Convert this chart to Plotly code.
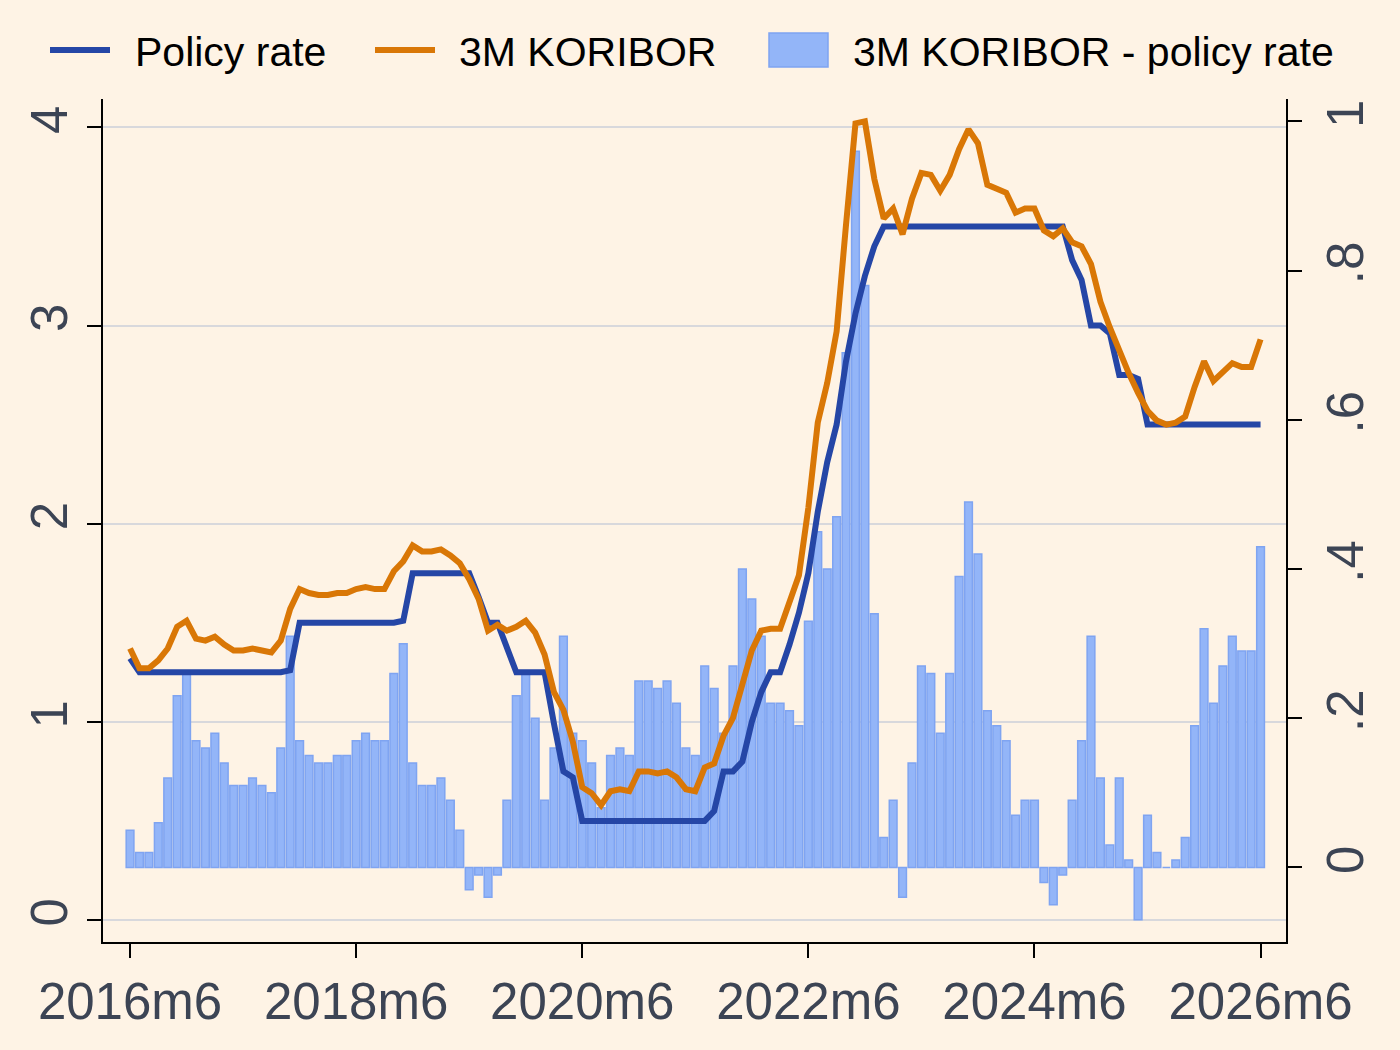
import plotly.graph_objects as go

# Monthly observations, 2016m6 .. 2026m6
months = [f"{2016 + (5 + i) // 12}m{(5 + i) % 12 + 1}" for i in range(121)]

policy_rate = [
    1.32, 1.25, 1.25, 1.25, 1.25, 1.25, 1.25, 1.25, 1.25, 1.25, 1.25, 1.25,
    1.25, 1.25, 1.25, 1.25, 1.25, 1.26, 1.50, 1.50, 1.50, 1.50, 1.50, 1.50,
    1.50, 1.50, 1.50, 1.50, 1.50, 1.51, 1.75, 1.75, 1.75, 1.75, 1.75, 1.75,
    1.75, 1.63, 1.50, 1.50, 1.37, 1.25, 1.25, 1.25, 1.25, 0.99, 0.75, 0.72,
    0.50, 0.50, 0.50, 0.50, 0.50, 0.50, 0.50, 0.50, 0.50, 0.50, 0.50, 0.50,
    0.50, 0.50, 0.55, 0.75, 0.75, 0.80, 1.00, 1.15, 1.25, 1.25, 1.39, 1.55,
    1.75, 2.06, 2.31, 2.50, 2.82, 3.06, 3.25, 3.40, 3.50, 3.50, 3.50, 3.50,
    3.50, 3.50, 3.50, 3.50, 3.50, 3.50, 3.50, 3.50, 3.50, 3.50, 3.50, 3.50,
    3.50, 3.50, 3.50, 3.50, 3.33, 3.23, 3.00, 3.00, 2.96, 2.75, 2.75, 2.73,
    2.50, 2.50, 2.50, 2.50, 2.50, 2.50, 2.50, 2.50, 2.50, 2.50, 2.50, 2.50,
    2.50,
]

koribor_3m = [
    1.37, 1.27, 1.27, 1.31, 1.37, 1.48, 1.51, 1.42, 1.41, 1.43, 1.39, 1.36,
    1.36, 1.37, 1.36, 1.35, 1.41, 1.57, 1.67, 1.65, 1.64, 1.64, 1.65, 1.65,
    1.67, 1.68, 1.67, 1.67, 1.76, 1.81, 1.89, 1.86, 1.86, 1.87, 1.84, 1.80,
    1.72, 1.62, 1.46, 1.49, 1.46, 1.48, 1.51, 1.45, 1.34, 1.15, 1.06, 0.90,
    0.67, 0.64, 0.58, 0.65, 0.66, 0.65, 0.75, 0.75, 0.74, 0.75, 0.72, 0.66,
    0.65, 0.77, 0.79, 0.93, 1.02, 1.20, 1.36, 1.46, 1.47, 1.47, 1.60, 1.74,
    2.08, 2.51, 2.71, 2.97, 3.51, 4.02, 4.03, 3.74, 3.54, 3.59, 3.46, 3.64,
    3.77, 3.76, 3.68, 3.76, 3.89, 3.99, 3.92, 3.71, 3.69, 3.67, 3.57, 3.59,
    3.59, 3.48, 3.45, 3.49, 3.42, 3.40, 3.31, 3.12, 2.99, 2.87, 2.76, 2.66,
    2.57, 2.52, 2.50, 2.51, 2.54, 2.69, 2.82, 2.72, 2.77, 2.81, 2.79, 2.79,
    2.93,
]

spread = [
    0.05, 0.02, 0.02, 0.06, 0.12, 0.23, 0.26, 0.17, 0.16, 0.18, 0.14, 0.11,
    0.11, 0.12, 0.11, 0.10, 0.16, 0.31, 0.17, 0.15, 0.14, 0.14, 0.15, 0.15,
    0.17, 0.18, 0.17, 0.17, 0.26, 0.30, 0.14, 0.11, 0.11, 0.12, 0.09, 0.05,
    -0.03, -0.01, -0.04, -0.01, 0.09, 0.23, 0.26, 0.20, 0.09, 0.16, 0.31, 0.18,
    0.17, 0.14, 0.08, 0.15, 0.16, 0.15, 0.25, 0.25, 0.24, 0.25, 0.22, 0.16,
    0.15, 0.27, 0.24, 0.18, 0.27, 0.40, 0.36, 0.31, 0.22, 0.22, 0.21, 0.19,
    0.33, 0.45, 0.40, 0.47, 0.69, 0.96, 0.78, 0.34, 0.04, 0.09, -0.04, 0.14,
    0.27, 0.26, 0.18, 0.26, 0.39, 0.49, 0.42, 0.21, 0.19, 0.17, 0.07, 0.09,
    0.09, -0.02, -0.05, -0.01, 0.09, 0.17, 0.31, 0.12, 0.03, 0.12, 0.01, -0.07,
    0.07, 0.02, 0.00, 0.01, 0.04, 0.19, 0.32, 0.22, 0.27, 0.31, 0.29, 0.29,
    0.43,
]

x_ticks = ["2016m6", "2018m6", "2020m6", "2022m6", "2024m6", "2026m6"]
left_ticks = [0, 1, 2, 3, 4]
left_labels = ["0", "1", "2", "3", "4"]
right_ticks = [0, 0.2, 0.4, 0.6, 0.8, 1.0]
right_labels = ["0", ".2", ".4", ".6", ".8", "1"]
series_names = ["Policy rate", "3M KORIBOR", "3M KORIBOR - policy rate"]

BG = "#fef3e5"
TXT = "#3c4454"
FONT = "Liberation Sans, Arial, sans-serif"
C_POLICY = "#2546a6"
C_KORIBOR = "#d97706"
C_BAR = "#93b5f8"
C_BAR_LINE = "#7fa4f1"

W, H = 1400, 1050
ML, MR, MT, MB = 103, 114, 99, 108
PW, PH = W - ML - MR, H - MT - MB


def px_x(px):
    return (px - ML) / PW


def px_y(py):
    return (H - MB - py) / PH


fig = go.Figure()
fig.add_trace(go.Scatter(
    x=months, y=policy_rate, name=series_names[0], mode="lines",
    line=dict(color=C_POLICY, width=6), yaxis="y2"))
fig.add_trace(go.Scatter(
    x=months, y=koribor_3m, name=series_names[1], mode="lines",
    line=dict(color=C_KORIBOR, width=6), yaxis="y2"))
fig.add_trace(go.Bar(
    x=months, y=spread, name=series_names[2],
    marker=dict(color=C_BAR, line=dict(color=C_BAR_LINE, width=1.5)),
    yaxis="y"))

axis_common = dict(
    showline=True, linecolor="black", linewidth=2,
    ticks="outside", ticklen=14, tickwidth=2, tickcolor="black",
    tickfont=dict(size=51, color=TXT, family=FONT),
    zeroline=False,
)

# Legend drawn as key marks + text along the top
legend_shapes = [
    dict(type="line", xref="paper", yref="paper",
         x0=px_x(50), x1=px_x(110), y0=px_y(50), y1=px_y(50),
         line=dict(color=C_POLICY, width=6)),
    dict(type="line", xref="paper", yref="paper",
         x0=px_x(375), x1=px_x(435), y0=px_y(50), y1=px_y(50),
         line=dict(color=C_KORIBOR, width=6)),
    dict(type="rect", xref="paper", yref="paper",
         x0=px_x(769), x1=px_x(828), y0=px_y(33), y1=px_y(67),
         fillcolor=C_BAR, line=dict(color=C_BAR_LINE, width=1.5)),
]
legend_text_x = [133, 457, 851]
legend_annotations = [
    dict(text=name, xref="paper", yref="paper", x=px_x(tx), y=px_y(52),
         xanchor="left", yanchor="middle", showarrow=False,
         font=dict(size=41, color="black", family=FONT))
    for name, tx in zip(series_names, legend_text_x)
]

fig.update_layout(
    width=W, height=H,
    margin=dict(l=ML, r=MR, t=MT, b=MB),
    paper_bgcolor=BG, plot_bgcolor=BG,
    font=dict(family=FONT, color="black"),
    bargap=0.18,
    showlegend=False,
    shapes=legend_shapes,
    annotations=legend_annotations,
    xaxis=dict(
        type="category", range=[-2.87, 122.7],
        tickmode="array", tickvals=x_ticks, ticktext=x_ticks,
        showgrid=False, **axis_common),
    yaxis=dict(
        side="right", range=[-0.0999, 1.030],
        tickmode="array", tickvals=right_ticks, ticktext=right_labels,
        tickangle=-90, showgrid=False, **axis_common),
    yaxis2=dict(
        side="left", overlaying="y", range=[-0.111, 4.143],
        tickmode="array", tickvals=left_ticks, ticktext=left_labels,
        tickangle=-90, showgrid=True, gridcolor="#d8d8dc", gridwidth=2,
        **axis_common),
)

fig.write_html("out.html")
